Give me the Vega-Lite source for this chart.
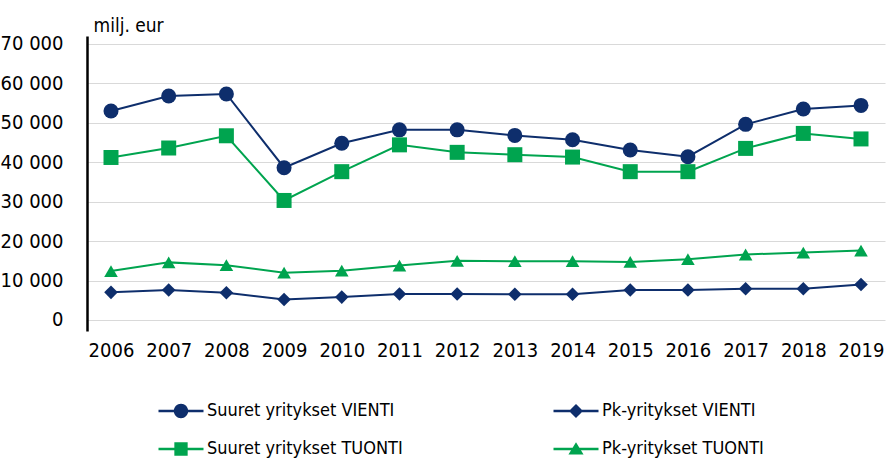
{
  "$schema": "https://vega.github.io/schema/vega-lite/v6.json",
  "width": 798,
  "height": 295,
  "autosize": {"type": "none"},
  "padding": {"left": 87, "top": 36, "right": 2, "bottom": 131},
  "background": "white",
  "config": {
    "view": {"stroke": null},
    "font": "DejaVu Sans Condensed",
    "locale": {"number": {"decimal": ",", "thousands": " ", "grouping": [3], "currency": ["", " €"]}}
  },
  "data": {
    "values": [
      {"year": "2006", "series": "Suuret yritykset VIENTI", "value": 53000},
      {"year": "2007", "series": "Suuret yritykset VIENTI", "value": 56800},
      {"year": "2008", "series": "Suuret yritykset VIENTI", "value": 57300},
      {"year": "2009", "series": "Suuret yritykset VIENTI", "value": 38600},
      {"year": "2010", "series": "Suuret yritykset VIENTI", "value": 44800},
      {"year": "2011", "series": "Suuret yritykset VIENTI", "value": 48200},
      {"year": "2012", "series": "Suuret yritykset VIENTI", "value": 48200},
      {"year": "2013", "series": "Suuret yritykset VIENTI", "value": 46800},
      {"year": "2014", "series": "Suuret yritykset VIENTI", "value": 45700},
      {"year": "2015", "series": "Suuret yritykset VIENTI", "value": 43100},
      {"year": "2016", "series": "Suuret yritykset VIENTI", "value": 41400},
      {"year": "2017", "series": "Suuret yritykset VIENTI", "value": 49600},
      {"year": "2018", "series": "Suuret yritykset VIENTI", "value": 53500},
      {"year": "2019", "series": "Suuret yritykset VIENTI", "value": 54400},
      {"year": "2006", "series": "Suuret yritykset TUONTI", "value": 41200},
      {"year": "2007", "series": "Suuret yritykset TUONTI", "value": 43600},
      {"year": "2008", "series": "Suuret yritykset TUONTI", "value": 46700},
      {"year": "2009", "series": "Suuret yritykset TUONTI", "value": 30300},
      {"year": "2010", "series": "Suuret yritykset TUONTI", "value": 37600},
      {"year": "2011", "series": "Suuret yritykset TUONTI", "value": 44400},
      {"year": "2012", "series": "Suuret yritykset TUONTI", "value": 42500},
      {"year": "2013", "series": "Suuret yritykset TUONTI", "value": 41900},
      {"year": "2014", "series": "Suuret yritykset TUONTI", "value": 41300},
      {"year": "2015", "series": "Suuret yritykset TUONTI", "value": 37600},
      {"year": "2016", "series": "Suuret yritykset TUONTI", "value": 37600},
      {"year": "2017", "series": "Suuret yritykset TUONTI", "value": 43500},
      {"year": "2018", "series": "Suuret yritykset TUONTI", "value": 47300},
      {"year": "2019", "series": "Suuret yritykset TUONTI", "value": 45900},
      {"year": "2006", "series": "Pk-yritykset VIENTI", "value": 7000},
      {"year": "2007", "series": "Pk-yritykset VIENTI", "value": 7600},
      {"year": "2008", "series": "Pk-yritykset VIENTI", "value": 6900},
      {"year": "2009", "series": "Pk-yritykset VIENTI", "value": 5200},
      {"year": "2010", "series": "Pk-yritykset VIENTI", "value": 5800},
      {"year": "2011", "series": "Pk-yritykset VIENTI", "value": 6600},
      {"year": "2012", "series": "Pk-yritykset VIENTI", "value": 6600},
      {"year": "2013", "series": "Pk-yritykset VIENTI", "value": 6500},
      {"year": "2014", "series": "Pk-yritykset VIENTI", "value": 6500},
      {"year": "2015", "series": "Pk-yritykset VIENTI", "value": 7600},
      {"year": "2016", "series": "Pk-yritykset VIENTI", "value": 7600},
      {"year": "2017", "series": "Pk-yritykset VIENTI", "value": 7900},
      {"year": "2018", "series": "Pk-yritykset VIENTI", "value": 7900},
      {"year": "2019", "series": "Pk-yritykset VIENTI", "value": 9000},
      {"year": "2006", "series": "Pk-yritykset TUONTI", "value": 12400},
      {"year": "2007", "series": "Pk-yritykset TUONTI", "value": 14600},
      {"year": "2008", "series": "Pk-yritykset TUONTI", "value": 13900},
      {"year": "2009", "series": "Pk-yritykset TUONTI", "value": 12000},
      {"year": "2010", "series": "Pk-yritykset TUONTI", "value": 12500},
      {"year": "2011", "series": "Pk-yritykset TUONTI", "value": 13800},
      {"year": "2012", "series": "Pk-yritykset TUONTI", "value": 15000},
      {"year": "2013", "series": "Pk-yritykset TUONTI", "value": 14900},
      {"year": "2014", "series": "Pk-yritykset TUONTI", "value": 14900},
      {"year": "2015", "series": "Pk-yritykset TUONTI", "value": 14700},
      {"year": "2016", "series": "Pk-yritykset TUONTI", "value": 15400},
      {"year": "2017", "series": "Pk-yritykset TUONTI", "value": 16600},
      {"year": "2018", "series": "Pk-yritykset TUONTI", "value": 17100},
      {"year": "2019", "series": "Pk-yritykset TUONTI", "value": 17600}
    ]
  },
  "encoding": {
    "x": {
      "field": "year",
      "type": "ordinal",
      "scale": {"type": "point", "padding": 0.416},
      "axis": {
        "title": null,
        "labelAngle": 0,
        "domain": false,
        "ticks": false,
        "grid": false,
        "labelPadding": 9,
        "labelFontSize": 20,
        "labelColor": "#000000",
        "labelFont": "DejaVu Sans Condensed"
      }
    },
    "y": {
      "field": "value",
      "type": "quantitative",
      "scale": {"domain": [-2800, 72000], "nice": false, "zero": false},
      "axis": {
        "values": [0, 10000, 20000, 30000, 40000, 50000, 60000, 70000],
        "format": ",d",
        "title": "milj. eur",
        "titleAngle": 0,
        "titleX": 6,
        "titleY": -11,
        "titleAlign": "left",
        "titleBaseline": "middle",
        "titleFontSize": 19,
        "titleFontWeight": "normal",
        "titleColor": "#000000",
        "titleFont": "DejaVu Sans Condensed",
        "domain": true,
        "domainColor": "#000000",
        "domainWidth": 2.5,
        "ticks": false,
        "labelPadding": 24,
        "labelFontSize": 20,
        "labelColor": "#000000",
        "labelFont": "DejaVu Sans Condensed",
        "grid": true,
        "gridColor": "#d9d9d9",
        "gridWidth": 1
      }
    }
  },
  "layer": [
    {
      "mark": {"type": "point", "filled": true, "size": 1, "opacity": 1},
      "encoding": {
        "fill": {
          "field": "series",
          "type": "nominal",
          "scale": {
            "domain": ["Suuret yritykset VIENTI", "Pk-yritykset VIENTI", "Suuret yritykset TUONTI", "Pk-yritykset TUONTI"],
            "range": ["#0e2e6c", "#0e2e6c", "#00a44f", "#00a44f"]
          },
          "legend": {
            "title": null,
            "orient": "none",
            "legendX": 76,
            "legendY": 357,
            "padding": 0,
            "columns": 2,
            "direction": "horizontal",
            "columnPadding": 150,
            "rowPadding": 11,
            "symbolSize": 1296,
            "symbolStrokeWidth": 0,
            "symbolOpacity": 1,
            "labelOffset": 8,
            "labelFontSize": 18,
            "labelFont": "DejaVu Sans Condensed",
            "labelColor": "#000000",
            "labelLimit": 400
          }
        },
        "shape": {
          "field": "series",
          "type": "nominal",
          "scale": {
            "domain": ["Suuret yritykset VIENTI", "Pk-yritykset VIENTI", "Suuret yritykset TUONTI", "Pk-yritykset TUONTI"],
            "range": [
              "M-1.25,-0.067H1.25V0.067H-1.25Z M0.4,0A0.4,0.4 0 1 1 -0.4,0A0.4,0.4 0 1 1 0.4,0Z",
              "M-1.25,-0.067H1.25V0.067H-1.25Z M0,-0.39L0.39,0L0,0.39L-0.39,0Z",
              "M-1.25,-0.067H1.25V0.067H-1.25Z M-0.37,-0.37H0.37V0.37H-0.37Z",
              "M-1.25,-0.067H1.25V0.067H-1.25Z M0,-0.38L0.42,0.3L-0.42,0.3Z"
            ]
          },
          "legend": {
            "title": null,
            "orient": "none",
            "legendX": 76,
            "legendY": 357,
            "padding": 0,
            "columns": 2,
            "direction": "horizontal",
            "columnPadding": 150,
            "rowPadding": 11,
            "symbolSize": 1296,
            "symbolStrokeWidth": 0,
            "symbolOpacity": 1,
            "labelOffset": 8,
            "labelFontSize": 18,
            "labelFont": "DejaVu Sans Condensed",
            "labelColor": "#000000",
            "labelLimit": 400
          }
        }
      }
    },
    {
      "mark": {"type": "line", "strokeWidth": 2},
      "encoding": {
        "stroke": {
          "field": "series",
          "type": "nominal",
          "scale": {
            "domain": ["Suuret yritykset VIENTI", "Pk-yritykset VIENTI", "Suuret yritykset TUONTI", "Pk-yritykset TUONTI"],
            "range": ["#0e2e6c", "#0e2e6c", "#00a44f", "#00a44f"]
          },
          "legend": null
        }
      }
    },
    {
      "transform": [{"filter": "datum.series === 'Suuret yritykset VIENTI'"}],
      "mark": {"type": "point", "shape": "circle", "filled": true, "size": 225, "color": "#0e2e6c", "opacity": 1}
    },
    {
      "transform": [{"filter": "datum.series === 'Suuret yritykset TUONTI'"}],
      "mark": {"type": "point", "shape": "square", "filled": true, "size": 225, "color": "#00a44f", "opacity": 1}
    },
    {
      "transform": [{"filter": "datum.series === 'Pk-yritykset VIENTI'"}],
      "mark": {"type": "point", "shape": "diamond", "filled": true, "size": 185, "color": "#0e2e6c", "opacity": 1}
    },
    {
      "transform": [{"filter": "datum.series === 'Pk-yritykset TUONTI'"}],
      "mark": {"type": "point", "shape": "triangle-up", "filled": true, "size": 185, "color": "#00a44f", "opacity": 1}
    }
  ]
}
